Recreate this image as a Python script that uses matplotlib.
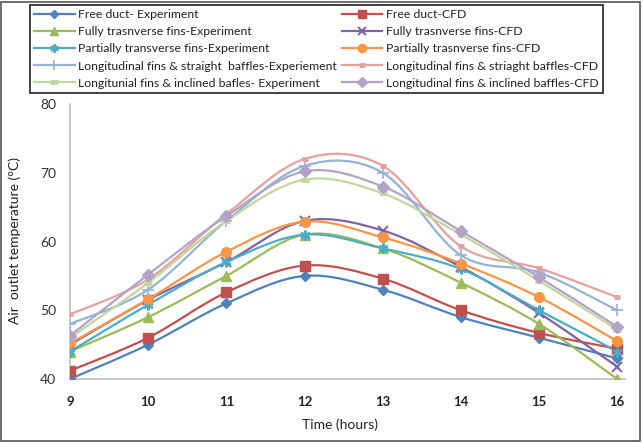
import matplotlib
matplotlib.use("Agg")
import matplotlib.pyplot as plt
from matplotlib.path import Path
from matplotlib.patches import PathPatch, Rectangle
from matplotlib.lines import Line2D
import numpy as np

hours = [9, 10, 11, 12, 13, 14, 15, 16]

free_exp = [40, 45, 51, 55, 53, 49, 46, 43]
free_cfd = [41.2, 46, 52.6, 56.5, 54.6, 50, 46.7, 44.4]
fully_exp = [44, 49, 55, 61, 59, 54, 48, 40]
fully_cfd = [45, 51.5, 57, 63, 61.6, 56.3, 49.6, 41.8]
part_exp = [44, 50.8, 57, 61, 59, 56, 50, 44]
part_cfd = [45.2, 51.6, 58.5, 62.9, 60.6, 56.8, 51.9, 45.5]
ls_exp = [48, 53, 63, 71, 70, 58, 55.5, 50]
ls_cfd = [49.4, 54.5, 64, 72, 71, 59.3, 56.1, 51.9]
li_exp = [46, 54, 63, 69, 67, 61, 54.3, 47.2]
li_cfd = [46.3, 55.2, 63.7, 70.2, 68, 61.5, 54.8, 47.6]

labels = [
    "Free duct- Experiment", "Free duct-CFD",
    "Fully trasnverse fins-Experiment", "Fully trasnverse fins-CFD",
    "Partially transverse fins-Experiment", "Partially trasnverse fins-CFD",
    "Longitudinal fins & straight  baffles-Experiement", "Longitudinal fins & striaght baffles-CFD",
    "Longitunial fins & inclined bafles- Experiment", "Longitudinal fins & inclined baffles-CFD",
]
series = [free_exp, free_cfd, fully_exp, fully_cfd, part_exp, part_cfd,
          ls_exp, ls_cfd, li_exp, li_cfd]
colors = ["#4F81BD", "#C0504D", "#9BBB59", "#8064A2", "#4BACC6", "#F79646",
          "#95B3D7", "#E6A09E", "#C3D69B", "#B3A2C7"]
markers = ["D", "s", "^", "x", (6, 2, 0), "o", "+", "_", "_", "D"]
msizes = [5, 6.5, 6.5, 7, 7, 7, 8, 5, 6, 6]
mews = [1, 1, 1, 1.5, 1.6, 1, 1.2, 3.5, 3.5, 1]

plt.rcParams['font.family'] = ['Lato', 'DejaVu Sans']

fig = plt.figure(figsize=(6.43, 4.44), dpi=100)
W, H = 643, 444
ax = fig.add_axes([70 / W, 1 - 379 / H, 555 / W, 275 / H])


def smooth_path(x, y):
    pts = np.column_stack([x, y]).astype(float)
    n = len(pts)
    verts = [pts[0]]
    codes = [Path.MOVETO]
    for i in range(n - 1):
        p0 = pts[i - 1] if i > 0 else pts[i]
        p1 = pts[i]
        p2 = pts[i + 1]
        p3 = pts[i + 2] if i + 2 < n else pts[i + 1]
        c1 = p1 + (p2 - p0) / 6.0
        c2 = p2 - (p3 - p1) / 6.0
        verts += [c1, c2, p2]
        codes += [Path.CURVE4] * 3
    return Path(verts, codes)


handles = []
for vals, lab, c, m, ms, mew in zip(series, labels, colors, markers, msizes, mews):
    patch = PathPatch(smooth_path(hours, vals), facecolor='none', edgecolor=c, lw=1.6, zorder=2)
    ax.add_patch(patch)
    ax.plot(hours, vals, linestyle='none', marker=m, color=c, ms=ms, mew=mew,
            mec=c, mfc=c, zorder=3)
    handles.append(Line2D([0], [0], color=c, lw=1.6, marker=m, ms=ms * 0.85, mew=mew, mec=c, mfc=c))

ax.set_xlim(9, 16.1)
ax.set_ylim(40, 80)
ax.set_xticks(hours)
ax.set_xticklabels([str(h) for h in hours], fontweight='bold', fontsize=9.5, color='#222222')
ax.set_yticks([40, 50, 60, 70, 80])
ax.set_yticklabels(['40', '50', '60', '70', '80'], fontsize=10, color='#333333')
ax.tick_params(axis='both', length=0)
ax.tick_params(axis='x', pad=12)
ax.tick_params(axis='y', pad=10)
for s in ['top', 'right']:
    ax.spines[s].set_visible(False)
for s in ['left', 'bottom']:
    ax.spines[s].set_color('#BFBFBF')
    ax.spines[s].set_linewidth(1.2)
ax.set_facecolor('none')

fig.text(340 / W, 1 - 425 / H, "Time (hours)", ha='center', va='center', fontsize=10, color='#222222')
fig.text(15 / W, 1 - 240 / H, "Air  outlet temperature (°C)", ha='center', va='center',
         rotation=90, fontsize=10, color='#222222')

order = [0, 2, 4, 6, 8, 1, 3, 5, 7, 9]
leg = fig.legend([handles[i] for i in order], [labels[i] for i in order],
                 ncol=2, loc='upper left',
                 bbox_to_anchor=(30 / W, 1 - 5 / H, 573 / W, 0), mode='expand',
                 fontsize=8.8, frameon=True, fancybox=False, edgecolor='black',
                 handlelength=3.3, handletextpad=0.3, labelspacing=0.5,
                 borderpad=0.35, borderaxespad=0, columnspacing=1.0)
leg.get_frame().set_linewidth(1.3)
for t in leg.get_texts():
    t.set_color('#222222')

fig.patches.append(Rectangle((1 / W, 3 / H), 639 / W, 439 / H, transform=fig.transFigure,
                             fill=False, edgecolor='#555555', lw=1.2))

fig.savefig("out.png", dpi=100)
